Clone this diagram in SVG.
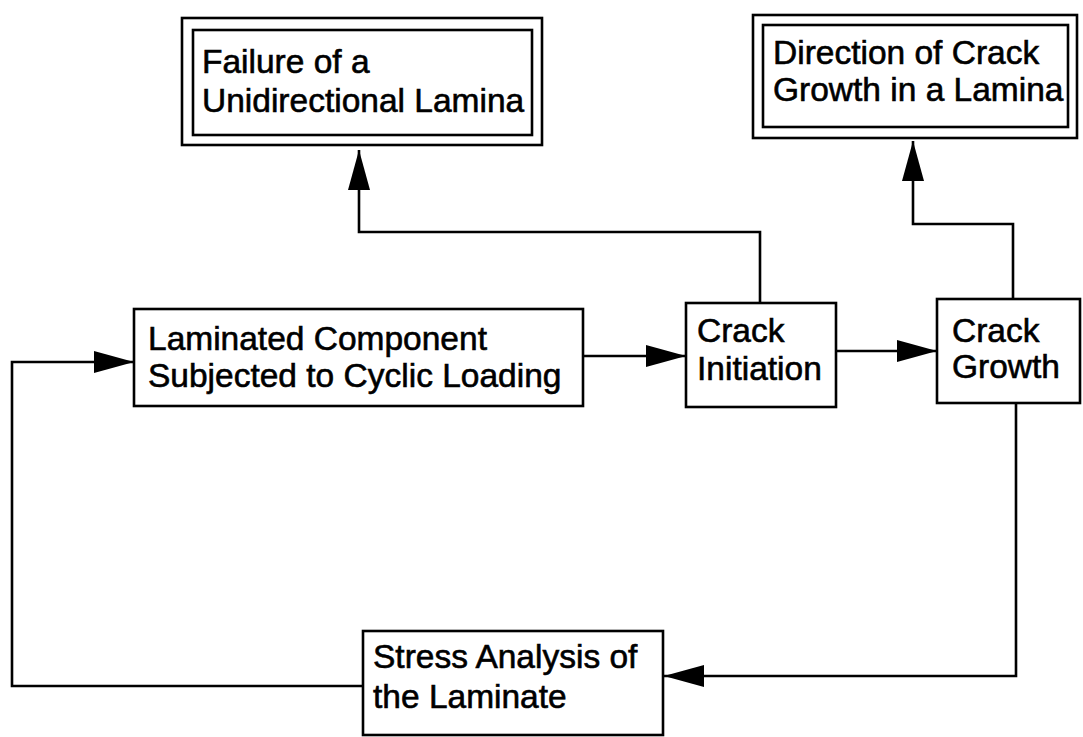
<svg xmlns="http://www.w3.org/2000/svg" width="1083" height="737" viewBox="0 0 1083 737">
<style>
.box{fill:#fff;stroke:#000;stroke-width:2.6}
.lbl{font-family:"Liberation Sans",Arial,Helvetica,sans-serif;font-size:33.5px;fill:#000;stroke:#000;stroke-width:0.6}
.con{fill:none;stroke:#000;stroke-width:2.6}
</style>
<defs>
<marker id="ah" markerUnits="userSpaceOnUse" markerWidth="42" markerHeight="24" refX="40" refY="11" orient="auto" viewBox="0 0 42 24">
<path d="M0,0 L40,11 L0,22 z" fill="#000"/>
</marker>
</defs>
<rect width="1083" height="737" fill="#fff"/>
<g id="connectors">
<path class="con" d="M760,303 V232 H359 V150" marker-end="url(#ah)"/>
<path class="con" d="M1013,299 V224 H913 V141" marker-end="url(#ah)"/>
<path class="con" d="M583,356 H686" marker-end="url(#ah)"/>
<path class="con" d="M836,351 H937" marker-end="url(#ah)"/>
<path class="con" d="M1016,403 V676 H664" marker-end="url(#ah)"/>
<path class="con" d="M363,686 H12 V362 H134" marker-end="url(#ah)"/>
</g>
<g id="failure">
<rect class="box" x="182" y="18" width="360" height="127"/>
<rect class="box" x="193" y="30" width="339" height="105"/>
<text class="lbl" x="202" y="73">Failure of a</text>
<text class="lbl" x="202" y="112">Unidirectional Lamina</text>
</g>
<g id="direction">
<rect class="box" x="753" y="15" width="324" height="123"/>
<rect class="box" x="763" y="25" width="305" height="102"/>
<text class="lbl" x="773" y="64">Direction of Crack</text>
<text class="lbl" x="773" y="101">Growth in a Lamina</text>
</g>
<g id="laminated">
<rect class="box" x="134" y="309" width="449" height="97"/>
<text class="lbl" x="148" y="350">Laminated Component</text>
<text class="lbl" x="148" y="387">Subjected to Cyclic Loading</text>
</g>
<g id="initiation">
<rect class="box" x="686" y="303" width="150" height="104"/>
<text class="lbl" x="697" y="342">Crack</text>
<text class="lbl" x="697" y="380">Initiation</text>
</g>
<g id="growth">
<rect class="box" x="937" y="299" width="143" height="104"/>
<text class="lbl" x="952" y="342">Crack</text>
<text class="lbl" x="952" y="378">Growth</text>
</g>
<g id="stress">
<rect class="box" x="363" y="631" width="300" height="104"/>
<text class="lbl" x="373" y="668">Stress Analysis of</text>
<text class="lbl" x="373" y="708">the Laminate</text>
</g>
</svg>
